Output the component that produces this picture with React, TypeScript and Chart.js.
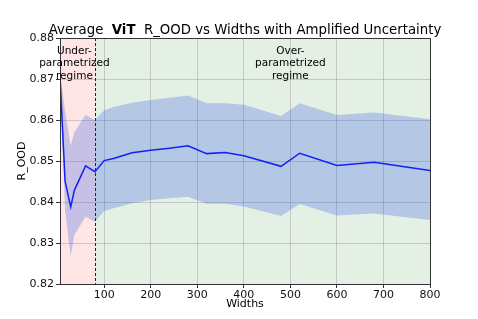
import React, { useEffect, useRef } from "react";
import { Chart, registerables } from "chart.js";

Chart.register(...registerables);

const widths = [5, 16, 28, 36, 60, 80, 100, 120, 160, 200, 240, 280, 320, 360, 400, 480, 520, 600, 680, 800];
const meanROOD = [0.8705, 0.845, 0.8388, 0.8429, 0.8488, 0.8474, 0.8501, 0.8506, 0.852, 0.8526, 0.8531, 0.8537, 0.8518, 0.8521, 0.8513, 0.8487, 0.8519, 0.8489, 0.8497, 0.8477];
const upperROOD = [0.8715, 0.862, 0.8537, 0.857, 0.8612, 0.86, 0.8624, 0.8632, 0.8642, 0.8649, 0.8654, 0.866, 0.8641, 0.8641, 0.8637, 0.861, 0.8641, 0.8612, 0.8618, 0.8602];
const lowerROOD = [0.8695, 0.838, 0.8267, 0.832, 0.8364, 0.8352, 0.8378, 0.8385, 0.8397, 0.8405, 0.8409, 0.8413, 0.8396, 0.8396, 0.8389, 0.8366, 0.8395, 0.8367, 0.8372, 0.8356];

const xTicks = [100, 200, 300, 400, 500, 600, 700, 800];
const yTicks = [0.82, 0.83, 0.84, 0.85, 0.86, 0.87, 0.88];
const xMin = 5;
const xMax = 800;
const yMin = 0.82;
const yMax = 0.88;

const titleParts = ["Average  ", "ViT", "  R_OOD vs Widths with Amplified Uncertainty"];
const xLabel = "Widths";
const yLabel = "R_OOD";
const underLabel = ["Under-", "parametrized", "regime"];
const overLabel = ["Over-", "parametrized", "regime"];
const regimeBoundary = 80;
const underLabelX = 36;
const overLabelX = 500;

const FONT = "'DejaVu Sans', sans-serif";

const decorPlugin = {
  id: "decor",
  beforeDraw(chart: any) {
    const { ctx, chartArea, scales } = chart;
    const xs = scales.x;
    const bx = xs.getPixelForValue(regimeBoundary);
    ctx.save();
    ctx.fillStyle = "rgb(255,229,229)";
    ctx.fillRect(chartArea.left, chartArea.top, bx - chartArea.left, chartArea.bottom - chartArea.top);
    ctx.fillStyle = "rgb(229,240,229)";
    ctx.fillRect(bx, chartArea.top, chartArea.right - bx, chartArea.bottom - chartArea.top);
    ctx.restore();
  },
  afterDatasetsDraw(chart: any) {
    const { ctx, chartArea, scales } = chart;
    const xs = scales.x;
    const bx = Math.round(xs.getPixelForValue(regimeBoundary)) + 0.5;
    ctx.save();
    ctx.strokeStyle = "#222";
    ctx.lineWidth = 1;
    ctx.setLineDash([3, 2]);
    ctx.beginPath();
    ctx.moveTo(bx, chartArea.top);
    ctx.lineTo(bx, chartArea.bottom);
    ctx.stroke();
    ctx.setLineDash([]);

    // spines
    ctx.strokeStyle = "#333";
    ctx.lineWidth = 1;
    ctx.strokeRect(
      Math.round(chartArea.left) + 0.5,
      Math.round(chartArea.top) + 0.5,
      Math.round(chartArea.right - chartArea.left),
      Math.round(chartArea.bottom - chartArea.top)
    );

    // annotations
    ctx.fillStyle = "#000";
    ctx.font = `10.5px ${FONT}`;
    ctx.textAlign = "center";
    ctx.textBaseline = "middle";
    const ys = [51, 63.5, 76];
    const ux = xs.getPixelForValue(underLabelX);
    const ox = xs.getPixelForValue(overLabelX);
    underLabel.forEach((t, i) => ctx.fillText(t, ux, ys[i]));
    overLabel.forEach((t, i) => ctx.fillText(t, ox, ys[i]));
    ctx.restore();
  },
  afterDraw(chart: any) {
    const { ctx, chartArea } = chart;
    ctx.save();
    ctx.fillStyle = "#000";
    // title
    const fonts = [`13.3px ${FONT}`, `bold 13.3px ${FONT}`, `13.3px ${FONT}`];
    let total = 0;
    const ws = titleParts.map((t, i) => {
      ctx.font = fonts[i];
      const w = ctx.measureText(t).width;
      total += w;
      return w;
    });
    let x = (chartArea.left + chartArea.right) / 2 - total / 2;
    ctx.textAlign = "left";
    ctx.textBaseline = "alphabetic";
    titleParts.forEach((t, i) => {
      ctx.font = fonts[i];
      ctx.fillText(t, x, 34);
      x += ws[i];
    });
    // axis labels
    ctx.font = `11px ${FONT}`;
    ctx.textAlign = "center";
    ctx.textBaseline = "middle";
    ctx.fillText(xLabel, (chartArea.left + chartArea.right) / 2, 304);
    ctx.translate(22, (chartArea.top + chartArea.bottom) / 2);
    ctx.rotate(-Math.PI / 2);
    ctx.fillText(yLabel, 0, 0);
    ctx.restore();
  },
};

export default function App() {
  const ref = useRef<HTMLCanvasElement>(null);
  useEffect(() => {
    if (!ref.current) return;
    const toPts = (arr: number[]) => widths.map((w, i) => ({ x: w, y: arr[i] }));
    const chart = new Chart(ref.current, {
      type: "line",
      data: {
        datasets: [
          {
            data: toPts(upperROOD),
            borderWidth: 0,
            borderColor: "rgba(0,0,0,0)",
            pointRadius: 0,
            fill: "+1",
            backgroundColor: "rgba(65,105,225,0.3)",
            tension: 0,
          },
          {
            data: toPts(lowerROOD),
            borderWidth: 0,
            borderColor: "rgba(0,0,0,0)",
            pointRadius: 0,
            fill: false,
            tension: 0,
          },
          {
            data: toPts(meanROOD),
            borderWidth: 1.5,
            borderColor: "#0000ff",
            pointRadius: 0,
            fill: false,
            tension: 0,
          },
        ],
      },
      options: {
        animation: false,
        responsive: false,
        devicePixelRatio: 1,
        layout: { padding: { top: 38, right: 48, left: 0, bottom: 0 } },
        plugins: { legend: { display: false }, tooltip: { enabled: false }, title: { display: false } },
        scales: {
          x: {
            type: "linear",
            min: xMin,
            max: xMax,
            afterBuildTicks: (s: any) => {
              s.ticks = xTicks.map((v) => ({ value: v }));
            },
            afterFit: (s: any) => {
              s.height = 35;
            },
            grid: {
              color: "rgba(150,150,150,0.45)",
              lineWidth: 1,
              drawTicks: true,
              tickLength: 4,
              tickColor: "#333",
            },
            border: { display: false },
            ticks: {
              autoSkip: false,
              maxRotation: 0,
              padding: 1,
              color: "#111",
              font: { family: "DejaVu Sans", size: 11 },
              callback: (v: any) => String(v),
            },
          },
          y: {
            type: "linear",
            min: yMin,
            max: yMax,
            afterBuildTicks: (s: any) => {
              s.ticks = yTicks.map((v) => ({ value: v }));
            },
            afterFit: (s: any) => {
              s.width = 60;
            },
            grid: {
              color: "rgba(150,150,150,0.45)",
              lineWidth: 1,
              drawTicks: true,
              tickLength: 4,
              tickColor: "#333",
            },
            border: { display: false },
            ticks: {
              padding: 2,
              color: "#111",
              font: { family: "DejaVu Sans", size: 11 },
              callback: (v: any) => Number(v).toFixed(2),
            },
          },
        },
      },
      plugins: [decorPlugin],
    });
    return () => chart.destroy();
  }, []);
  return (
    <div style={{ position: "absolute", left: 0, top: 0, width: 478, height: 319, background: "#fff" }}>
      <canvas ref={ref} width={478} height={319} style={{ display: "block" }} />
    </div>
  );
}
